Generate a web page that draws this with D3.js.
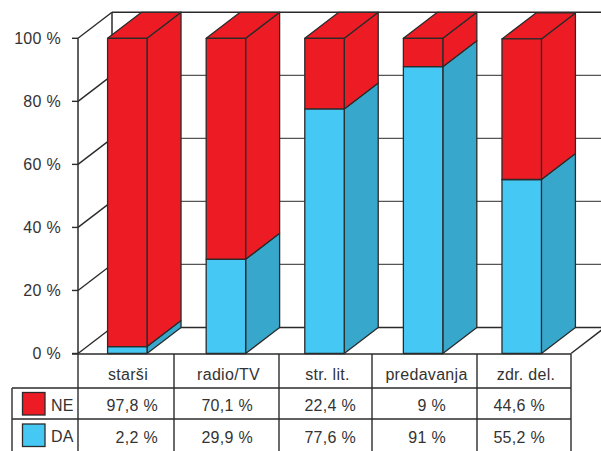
<!DOCTYPE html>
<html>
<head>
<meta charset="utf-8">
<script src="https://cdn.jsdelivr.net/npm/d3@7"></script>
<style>
  body { margin: 0; background: #fff; }
  svg { display: block; }
  text { font-family: "Liberation Sans", Arial, sans-serif; fill: #333; letter-spacing: 0.3px; }
</style>
</head>
<body>
<svg id="chart" width="601" height="451"></svg>
<script>
// data
const categories = ["starši", "radio/TV", "str. lit.", "predavanja", "zdr. del."];
const seriesNames = ["NE", "DA"];
const valuesNE = [97.8, 70.1, 22.4, 9, 44.6];
const valuesDA = [2.2, 29.9, 77.6, 91, 55.2];
const labelsNE = ["97,8 %", "70,1 %", "22,4 %", "9 %", "44,6 %"];
const labelsDA = ["2,2 %", "29,9 %", "77,6 %", "91 %", "55,2 %"];
const yTicks = [0, 20, 40, 60, 80, 100];

const width = 601, height = 451;
const svg = d3.select("#chart");

const RED = "#ed1c24", BLUE = "#45c9f4", BLUE_SIDE = "#38a7cc";
const LINE = "#2b2b2b";

// 3d depth offset
const dx = 34, dy = -26;

const y = d3.scaleLinear().domain([0, 100]).range([353.5, 38.3]);
const x = d3.scaleBand().domain(categories).range([78, 571])
  .paddingInner(0.6).paddingOuter(0.3);

// table column edges (slightly irregular in original)
const colEdges = [78, 174, 279, 372, 477, 571];
const valueRight = [158, 253, 356, 446, 545];

const g = svg.append("g");

// back wall gridlines
g.selectAll(".grid")
  .data(yTicks.slice(1, -1))
  .enter().append("line")
  .attr("x1", 78 + dx).attr("x2", width + 10)
  .attr("y1", d => y(d) + dy).attr("y2", d => y(d) + dy)
  .attr("stroke", "#555").attr("stroke-width", 1.2);

// top and floor back lines
g.append("line").attr("x1", 78 + dx).attr("x2", width + 10)
  .attr("y1", y(100) + dy).attr("y2", y(100) + dy)
  .attr("stroke", LINE).attr("stroke-width", 1.5);
g.append("line").attr("x1", 78 + dx).attr("x2", 571 + dx)
  .attr("y1", y(0) + dy).attr("y2", y(0) + dy)
  .attr("stroke", LINE).attr("stroke-width", 1.5);

// left wall diagonals
g.selectAll(".diag")
  .data(yTicks)
  .enter().append("line")
  .attr("x1", 78).attr("x2", 78 + dx)
  .attr("y1", d => y(d)).attr("y2", d => y(d) + dy)
  .attr("stroke", LINE).attr("stroke-width", 1.4);

// back vertical
g.append("line").attr("x1", 78 + dx).attr("x2", 78 + dx)
  .attr("y1", y(100) + dy).attr("y2", y(0) + dy)
  .attr("stroke", LINE).attr("stroke-width", 1.5);

// front axis
g.append("line").attr("x1", 78).attr("x2", 78)
  .attr("y1", y(100)).attr("y2", y(0))
  .attr("stroke", LINE).attr("stroke-width", 1.5);

// floor right diagonal
g.append("line").attr("x1", 571).attr("x2", 571 + dx)
  .attr("y1", y(0)).attr("y2", y(0) + dy)
  .attr("stroke", LINE).attr("stroke-width", 1.5);

// ticks and labels
g.selectAll(".tick")
  .data(yTicks)
  .enter().append("line")
  .attr("x1", 72).attr("x2", 78)
  .attr("y1", d => y(d)).attr("y2", d => y(d))
  .attr("stroke", LINE).attr("stroke-width", 1.4);
g.selectAll(".tlabel")
  .data(yTicks)
  .enter().append("text")
  .attr("x", 61).attr("y", d => y(d))
  .attr("dy", "0.36em")
  .attr("text-anchor", "end")
  .attr("font-size", 16)
  .text(d => d + " %");

// 3d bars
function box(parent, x0, y0, y1, front, side, top) {
  const bw = x.bandwidth();
  const b = parent.append("g").attr("stroke", LINE).attr("stroke-width", 1.3)
    .attr("stroke-linejoin", "round");
  b.append("path").attr("fill", side)
    .attr("d", `M${x0 + bw},${y1}L${x0 + bw + dx},${y1 + dy}L${x0 + bw + dx},${y0 + dy}L${x0 + bw},${y0}Z`);
  if (top) {
    b.append("path").attr("fill", top)
      .attr("d", `M${x0},${y1}L${x0 + dx},${y1 + dy}L${x0 + bw + dx},${y1 + dy}L${x0 + bw},${y1}Z`);
  }
  b.append("rect").attr("fill", front)
    .attr("x", x0).attr("y", y1).attr("width", bw).attr("height", y0 - y1);
}

categories.forEach((c, i) => {
  const x0 = x(c);
  const da = valuesDA[i], ne = valuesNE[i];
  box(g, x0, y(0), y(da), BLUE, BLUE_SIDE, null);
  box(g, x0, y(da), y(da + ne), RED, RED, RED);
});

// table
const t = svg.append("g").attr("stroke", LINE).attr("stroke-width", 1.4);
const rowTop = 354, row1 = 388, row2 = 419;
t.append("line").attr("x1", 72).attr("x2", 571).attr("y1", rowTop).attr("y2", rowTop);
t.append("line").attr("x1", 12).attr("x2", 571).attr("y1", row1).attr("y2", row1);
t.append("line").attr("x1", 12).attr("x2", 571).attr("y1", row2).attr("y2", row2);
t.selectAll(".col").data(colEdges).enter().append("line")
  .attr("x1", d => d).attr("x2", d => d)
  .attr("y1", rowTop).attr("y2", height);
t.append("line").attr("x1", 12).attr("x2", 12).attr("y1", row1).attr("y2", height);

// header labels
svg.selectAll(".cat").data(categories).enter().append("text")
  .attr("x", (d, i) => (colEdges[i] + colEdges[i + 1]) / 2 + 2)
  .attr("y", 380)
  .attr("text-anchor", "middle")
  .attr("font-size", 16)
  .text(d => d);

// values
[labelsNE, labelsDA].forEach((labels, r) => {
  svg.selectAll(".v" + r).data(labels).enter().append("text")
    .attr("x", (d, i) => valueRight[i])
    .attr("y", r === 0 ? 411 : 443)
    .attr("text-anchor", "end")
    .attr("font-size", 16)
    .text(d => d);
});

// legend in table
const swatch = [RED, BLUE];
seriesNames.forEach((s, r) => {
  const yy = r === 0 ? 392.5 : 424;
  svg.append("rect").attr("x", 22.5).attr("y", yy).attr("width", 22.5).attr("height", 22.5)
    .attr("fill", swatch[r]).attr("stroke", LINE).attr("stroke-width", 1.3);
  svg.append("text").attr("x", 51).attr("y", yy + 18)
    .attr("font-size", 16).text(s);
});
</script>
</body>
</html>
